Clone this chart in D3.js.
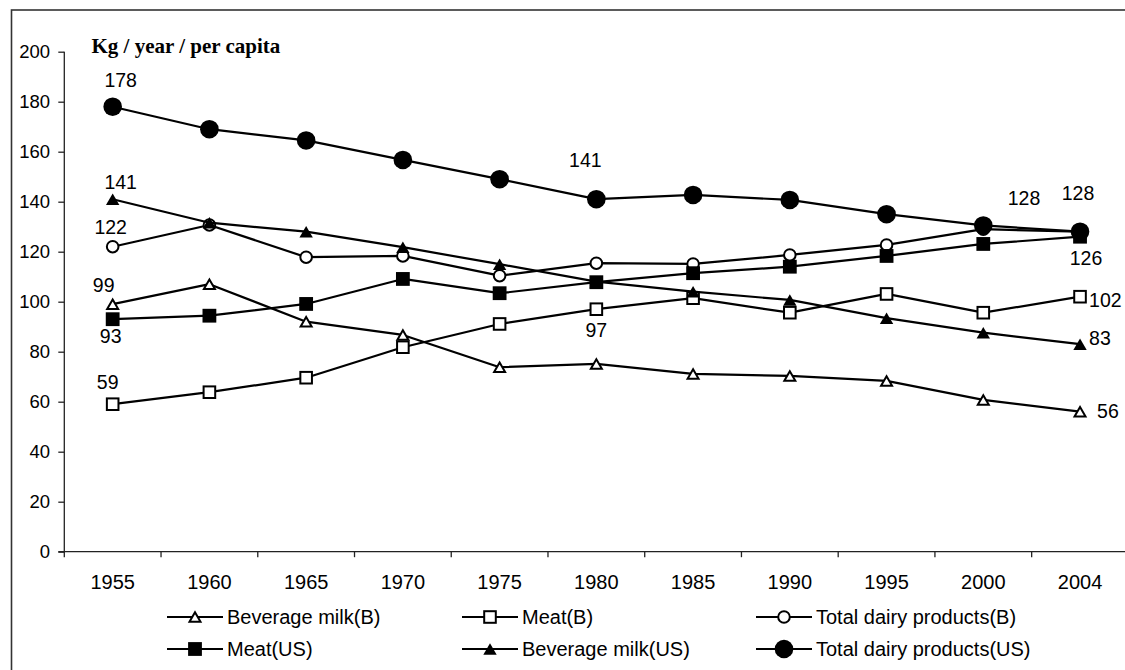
<!DOCTYPE html>
<html>
<head>
<meta charset="utf-8">
<script src="https://cdn.jsdelivr.net/npm/d3@7"></script>
<style>
  html, body { margin: 0; padding: 0; background: #fff; }
  svg { display: block; }
</style>
</head>
<body>
<svg id="chart" width="1125" height="670"></svg>
<script>
// Per-capita consumption, kg / year
const years = ["1955", "1960", "1965", "1970", "1975", "1980", "1985", "1990", "1995", "2000", "2004"];

const beverageMilkB  = [99, 107, 92, 86.7, 73.8, 75.1, 71.1, 70.3, 68.3, 60.7, 56];
const meatB          = [59, 63.8, 69.6, 81.8, 91.1, 97, 101.4, 95.6, 103.1, 95.6, 102];
const totalDairyB    = [122, 130.7, 117.8, 118.3, 110.4, 115.4, 115.1, 118.7, 122.7, 129, 128];
const meatUS         = [93, 94.4, 99.1, 109.1, 103.4, 107.8, 111.4, 114, 118.3, 123.1, 126];
const beverageMilkUS = [141, 131.6, 128, 121.8, 115, 108, 104, 100.7, 93.4, 87.6, 83];
const totalDairyUS   = [178, 169, 164.5, 156.7, 149, 141, 142.7, 140.7, 135, 130.5, 128];

const yTicks = [0, 20, 40, 60, 80, 100, 120, 140, 160, 180, 200];
const unitTitle = "Kg / year / per capita";

// Series in drawing / legend order
const series = [
  { name: "Beverage milk(B)",        values: beverageMilkB,  marker: "triangle", filled: false },
  { name: "Meat(B)",                 values: meatB,          marker: "square",   filled: false },
  { name: "Total dairy products(B)", values: totalDairyB,    marker: "circle",   filled: false },
  { name: "Meat(US)",                values: meatUS,         marker: "square",   filled: true },
  { name: "Beverage milk(US)",       values: beverageMilkUS, marker: "triangle", filled: true },
  { name: "Total dairy products(US)",values: totalDairyUS,   marker: "circle",   filled: true }
];

// Value labels: [series index, year index, dx, dy, anchor]
const valueLabels = [
  [5, 0,   8, -19.5, "middle"],
  [4, 0,   8, -10,   "middle"],
  [2, 0,  -2, -12.5, "middle"],
  [0, 0,  -9, -12.5, "middle"],
  [3, 0,  -2,  24,   "middle"],
  [1, 0,  -5, -15,   "middle"],
  [5, 5, -11, -32.5, "middle"],
  [1, 5,   0,  27.5, "middle"],
  [2, 10, -56, -27,  "middle"],
  [5, 10, -2, -32,   "middle"],
  [3, 10,  6,  28,   "middle"],
  [1, 10,  9,  10,   "start"],
  [4, 10,  9,   1,   "start"],
  [0, 10, 17,   6.7, "start"]
];

const FONT = "'Liberation Sans', Arial, sans-serif";
const svg = d3.select("#chart");

// Outer frame (extends past the visible area on the right and bottom)
svg.append("rect")
  .attr("x", 11.5).attr("y", 10)
  .attr("width", 1140).attr("height", 700)
  .attr("fill", "none").attr("stroke", "#333").attr("stroke-width", 1.6);

const x = d3.scaleBand().domain(years).range([64.3, 1128.4]).padding(0);
const y = d3.scaleLinear().domain([0, 200]).range([551.7, 51.7]);

// Y axis
const yAxis = svg.append("g")
  .attr("transform", `translate(${x.range()[0]},0)`)
  .call(d3.axisLeft(y).tickValues(yTicks).tickSize(6).tickPadding(8.3).tickSizeOuter(0));
yAxis.select(".domain").attr("stroke", "#222").attr("stroke-width", 1.3)
  .attr("d", `M0,${y(200)}V${y(0) + 5.5}`);
yAxis.selectAll(".tick line").attr("stroke", "#222").attr("stroke-width", 1.3);
yAxis.selectAll("text").attr("font-family", FONT).attr("font-size", 18.5).attr("fill", "#000");

// X axis (labels centred in each band, ticks on band boundaries)
const xAxis = svg.append("g")
  .attr("transform", `translate(0,${y(0)})`)
  .call(d3.axisBottom(x).tickSize(0).tickPadding(23).tickSizeOuter(0));
xAxis.select(".domain").attr("stroke", "#222").attr("stroke-width", 1.3)
  .attr("d", `M${x.range()[0] - 6},0H${x.range()[1]}`);
xAxis.selectAll("text").attr("font-family", FONT).attr("font-size", 20).attr("fill", "#000");
xAxis.selectAll(".boundary")
  .data(years.slice(1))
  .enter().append("line")
  .attr("class", "boundary")
  .attr("x1", d => x(d)).attr("x2", d => x(d))
  .attr("y1", 0).attr("y2", 5.5)
  .attr("stroke", "#222").attr("stroke-width", 1.3);

// Unit title
svg.append("text")
  .attr("x", 91.5).attr("y", 53.3)
  .attr("font-family", "'Liberation Serif', 'Times New Roman', serif")
  .attr("font-weight", "bold").attr("font-size", 21)
  .attr("fill", "#000")
  .text(unitTitle);

// Marker drawing
function drawMarker(g, type, filled, cx, cy, scale) {
  const k = scale || 1;
  const fill = filled ? "#000" : "#fff";
  if (type === "circle") {
    const r = (filled ? 9.3 : 5.8) * k;
    g.append("circle").attr("cx", cx).attr("cy", cy).attr("r", r)
      .attr("fill", fill).attr("stroke", "#000").attr("stroke-width", filled ? 0 : 2);
  } else if (type === "square") {
    const s = (filled ? 13.8 : 11.6) * k;
    g.append("rect").attr("x", cx - s / 2).attr("y", cy - s / 2)
      .attr("width", s).attr("height", s)
      .attr("fill", fill).attr("stroke", "#000").attr("stroke-width", filled ? 0 : 2);
  } else {
    const w = (filled ? 13.4 : 11) * k, h = (filled ? 11.6 : 9.6) * k;
    g.append("path")
      .attr("d", `M${cx},${cy - h / 2}L${cx + w / 2},${cy + h / 2}L${cx - w / 2},${cy + h / 2}Z`)
      .attr("fill", fill).attr("stroke", "#000").attr("stroke-width", filled ? 0 : 2)
      .attr("stroke-linejoin", "miter");
  }
}

const cxOf = i => x(years[i]) + x.bandwidth() / 2;
const line = d3.line().x((d, i) => cxOf(i)).y(d => y(d));

series.forEach(s => {
  const g = svg.append("g");
  g.append("path")
    .attr("d", line(s.values))
    .attr("fill", "none").attr("stroke", "#000").attr("stroke-width", 2.2)
    .attr("stroke-linejoin", "round");
  s.values.forEach((v, i) => drawMarker(g, s.marker, s.filled, cxOf(i), y(v)));
});

// Value labels
const fmt = d3.format(".0f");
svg.append("g").selectAll("text")
  .data(valueLabels)
  .enter().append("text")
  .attr("x", d => cxOf(d[1]) + d[2])
  .attr("y", d => y(series[d[0]].values[d[1]]) + d[3])
  .attr("text-anchor", d => d[4])
  .attr("font-family", FONT).attr("font-size", 19.5).attr("fill", "#000")
  .text(d => fmt(series[d[0]].values[d[1]]));

// Legend: two rows of three
const legendCols = [167, 462, 756];
const legendRows = [617, 649];
series.forEach((s, i) => {
  const lx = legendCols[i % 3], ly = legendRows[Math.floor(i / 3)];
  const g = svg.append("g");
  g.append("line").attr("x1", lx).attr("x2", lx + 56).attr("y1", ly).attr("y2", ly)
    .attr("stroke", "#000").attr("stroke-width", 2.2);
  drawMarker(g, s.marker, s.filled, lx + 28, ly, 1);
  g.append("text").attr("x", lx + 60).attr("y", ly).attr("dy", "0.35em")
    .attr("font-family", FONT).attr("font-size", 20).attr("fill", "#000")
    .text(s.name);
});
</script>
</body>
</html>
